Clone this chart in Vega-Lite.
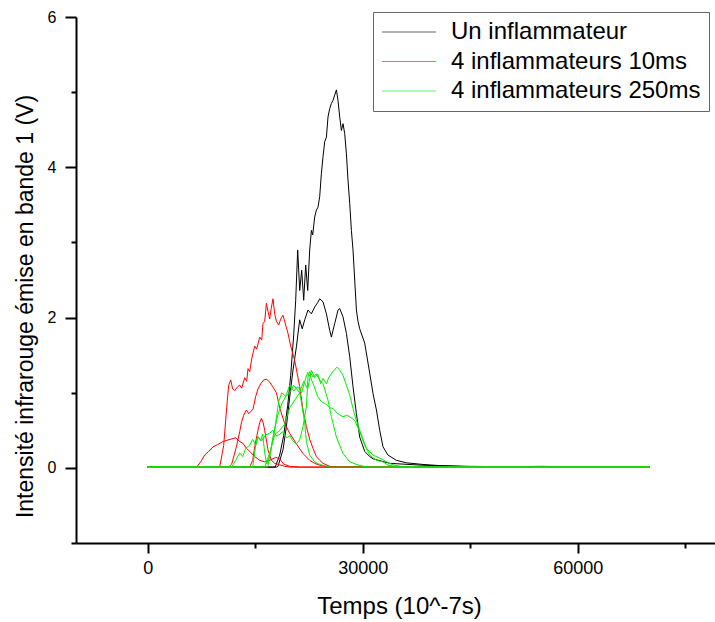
{
  "$schema": "https://vega.github.io/schema/vega-lite/v6.json",
  "width": 639,
  "height": 526,
  "autosize": {"type": "none"},
  "padding": {"left": 76, "top": 17, "right": 0, "bottom": 79},
  "background": "white",
  "view": {"stroke": null},
  "config": {
    "font": "Liberation Sans",
    "axis": {"grid": false, "domainColor": "black", "domainWidth": 2, "tickColor": "black", "tickWidth": 2, "labelColor": "black", "titleColor": "black", "labelFont": "Liberation Sans", "titleFont": "Liberation Sans", "titleFontWeight": "normal"}
  },
  "datasets": {
    "series": [
      {"k": "A", "serie": "Un inflammateur"},
      {"k": "B", "serie": "Un inflammateur"},
      {"k": "R1", "serie": "4 inflammateurs 10ms"},
      {"k": "R2", "serie": "4 inflammateurs 10ms"},
      {"k": "R3", "serie": "4 inflammateurs 10ms"},
      {"k": "R4", "serie": "4 inflammateurs 10ms"},
      {"k": "G1", "serie": "4 inflammateurs 250ms"},
      {"k": "G2", "serie": "4 inflammateurs 250ms"},
      {"k": "G3", "serie": "4 inflammateurs 250ms"},
      {"k": "G4", "serie": "4 inflammateurs 250ms"}
    ],
    "pts": [
      {"k":"A","t":0,"v":0.01},{"k":"A","t":17790,"v":0.01},{"k":"A","t":18419,"v":0.17},{"k":"A","t":18977,"v":0.43},{"k":"A","t":19535,"v":0.83},{"k":"A","t":19954,"v":1.23},{"k":"A","t":20372,"v":1.77},{"k":"A","t":20651,"v":2.23},{"k":"A","t":20930,"v":2.9},{"k":"A","t":21209,"v":2.36},{"k":"A","t":21488,"v":2.63},{"k":"A","t":21767,"v":2.23},{"k":"A","t":22047,"v":2.7},{"k":"A","t":22326,"v":2.36},{"k":"A","t":22605,"v":2.9},{"k":"A","t":22842,"v":3.16},{"k":"A","t":23023,"v":3.1},{"k":"A","t":23302,"v":3.34},{"k":"A","t":23539,"v":3.43},{"k":"A","t":23763,"v":3.47},{"k":"A","t":24000,"v":3.61},{"k":"A","t":24237,"v":3.92},{"k":"A","t":24461,"v":4.14},{"k":"A","t":24698,"v":4.34},{"k":"A","t":24935,"v":4.4},{"k":"A","t":25158,"v":4.67},{"k":"A","t":25395,"v":4.78},{"k":"A","t":25633,"v":4.85},{"k":"A","t":25856,"v":4.89},{"k":"A","t":26093,"v":4.96},{"k":"A","t":26330,"v":5.03},{"k":"A","t":26554,"v":4.89},{"k":"A","t":26791,"v":4.67},{"k":"A","t":27028,"v":4.49},{"k":"A","t":27251,"v":4.58},{"k":"A","t":27488,"v":4.45},{"k":"A","t":27726,"v":4.18},{"k":"A","t":27949,"v":3.83},{"k":"A","t":28186,"v":3.52},{"k":"A","t":28423,"v":3.16},{"k":"A","t":28647,"v":2.9},{"k":"A","t":28884,"v":2.5},{"k":"A","t":29121,"v":2.1},{"k":"A","t":29344,"v":1.95},{"k":"A","t":29581,"v":1.85},{"k":"A","t":30279,"v":1.66},{"k":"A","t":30977,"v":1.26},{"k":"A","t":31437,"v":0.99},{"k":"A","t":31912,"v":0.77},{"k":"A","t":32372,"v":0.5},{"k":"A","t":32833,"v":0.28},{"k":"A","t":33530,"v":0.17},{"k":"A","t":34702,"v":0.1},{"k":"A","t":36098,"v":0.067},{"k":"A","t":38414,"v":0.045},{"k":"A","t":40744,"v":0.03},{"k":"A","t":44930,"v":0.02},{"k":"A","t":50000,"v":0.015},{"k":"A","t":55000,"v":0.02},{"k":"A","t":60000,"v":0.012},{"k":"A","t":65000,"v":0.018},{"k":"A","t":70000,"v":0.012},
      {"k":"B","t":0,"v":0.01},{"k":"B","t":18000,"v":0.01},{"k":"B","t":18181,"v":0.02},{"k":"B","t":18879,"v":0.24},{"k":"B","t":19353,"v":0.55},{"k":"B","t":19814,"v":0.94},{"k":"B","t":20274,"v":1.3},{"k":"B","t":20749,"v":1.61},{"k":"B","t":21209,"v":1.97},{"k":"B","t":21558,"v":1.85},{"k":"B","t":21907,"v":1.97},{"k":"B","t":22367,"v":2.1},{"k":"B","t":22842,"v":2.05},{"k":"B","t":23302,"v":2.14},{"k":"B","t":23721,"v":2.2},{"k":"B","t":24000,"v":2.25},{"k":"B","t":24461,"v":2.21},{"k":"B","t":24935,"v":2.05},{"k":"B","t":25395,"v":1.83},{"k":"B","t":25633,"v":1.74},{"k":"B","t":26093,"v":1.92},{"k":"B","t":26554,"v":2.1},{"k":"B","t":26791,"v":2.12},{"k":"B","t":27251,"v":2.01},{"k":"B","t":27726,"v":1.79},{"k":"B","t":28186,"v":1.48},{"k":"B","t":28647,"v":1.08},{"k":"B","t":29121,"v":0.72},{"k":"B","t":29581,"v":0.41},{"k":"B","t":30279,"v":0.22},{"k":"B","t":30977,"v":0.15},{"k":"B","t":31437,"v":0.12},{"k":"B","t":33767,"v":0.06},{"k":"B","t":38372,"v":0.035},{"k":"B","t":44930,"v":0.015},{"k":"B","t":70000,"v":0.01},
      {"k":"R1","t":0,"v":0.01},{"k":"R1","t":6837,"v":0.01},{"k":"R1","t":7395,"v":0.08},{"k":"R1","t":7953,"v":0.17},{"k":"R1","t":8512,"v":0.22},{"k":"R1","t":9112,"v":0.28},{"k":"R1","t":9767,"v":0.31},{"k":"R1","t":10507,"v":0.35},{"k":"R1","t":11163,"v":0.37},{"k":"R1","t":11902,"v":0.39},{"k":"R1","t":12279,"v":0.4},{"k":"R1","t":12837,"v":0.35},{"k":"R1","t":13256,"v":0.33},{"k":"R1","t":13772,"v":0.26},{"k":"R1","t":14233,"v":0.22},{"k":"R1","t":14930,"v":0.15},{"k":"R1","t":15628,"v":0.1},{"k":"R1","t":16326,"v":0.08},{"k":"R1","t":17023,"v":0.1},{"k":"R1","t":17860,"v":0.14},{"k":"R1","t":18419,"v":0.12},{"k":"R1","t":18977,"v":0.05},{"k":"R1","t":19814,"v":0.02},{"k":"R1","t":21209,"v":0.01},{"k":"R1","t":70000,"v":0.01},
      {"k":"R2","t":0,"v":0.01},{"k":"R2","t":10047,"v":0.01},{"k":"R2","t":10605,"v":0.3},{"k":"R2","t":11023,"v":0.8},{"k":"R2","t":11302,"v":1.1},{"k":"R2","t":11581,"v":1.17},{"k":"R2","t":11860,"v":1.05},{"k":"R2","t":12140,"v":1.03},{"k":"R2","t":12558,"v":1.08},{"k":"R2","t":12837,"v":1.1},{"k":"R2","t":13116,"v":1.06},{"k":"R2","t":13535,"v":1.2},{"k":"R2","t":13814,"v":1.15},{"k":"R2","t":13995,"v":1.32},{"k":"R2","t":14233,"v":1.28},{"k":"R2","t":14512,"v":1.45},{"k":"R2","t":14930,"v":1.62},{"k":"R2","t":15209,"v":1.58},{"k":"R2","t":15628,"v":1.74},{"k":"R2","t":15907,"v":1.7},{"k":"R2","t":16088,"v":1.92},{"k":"R2","t":16326,"v":1.95},{"k":"R2","t":16563,"v":2.19},{"k":"R2","t":16744,"v":2.1},{"k":"R2","t":17023,"v":1.98},{"k":"R2","t":17233,"v":2.12},{"k":"R2","t":17484,"v":2.25},{"k":"R2","t":17721,"v":2.05},{"k":"R2","t":17958,"v":1.95},{"k":"R2","t":18279,"v":1.9},{"k":"R2","t":18558,"v":1.98},{"k":"R2","t":18879,"v":2.03},{"k":"R2","t":19256,"v":1.9},{"k":"R2","t":19577,"v":1.79},{"k":"R2","t":19954,"v":1.62},{"k":"R2","t":20512,"v":1.43},{"k":"R2","t":21209,"v":1.08},{"k":"R2","t":21670,"v":0.77},{"k":"R2","t":22144,"v":0.55},{"k":"R2","t":22605,"v":0.38},{"k":"R2","t":23065,"v":0.26},{"k":"R2","t":23539,"v":0.15},{"k":"R2","t":24000,"v":0.1},{"k":"R2","t":24461,"v":0.06},{"k":"R2","t":25395,"v":0.02},{"k":"R2","t":26791,"v":0.01},{"k":"R2","t":70000,"v":0.01},
      {"k":"R3","t":0,"v":0.01},{"k":"R3","t":11302,"v":0.01},{"k":"R3","t":11721,"v":0.05},{"k":"R3","t":12377,"v":0.28},{"k":"R3","t":12837,"v":0.48},{"k":"R3","t":13075,"v":0.6},{"k":"R3","t":13395,"v":0.7},{"k":"R3","t":13772,"v":0.77},{"k":"R3","t":14093,"v":0.72},{"k":"R3","t":14372,"v":0.75},{"k":"R3","t":14693,"v":0.78},{"k":"R3","t":15070,"v":0.95},{"k":"R3","t":15391,"v":1.05},{"k":"R3","t":15767,"v":1.12},{"k":"R3","t":16186,"v":1.17},{"k":"R3","t":16605,"v":1.18},{"k":"R3","t":17023,"v":1.14},{"k":"R3","t":17442,"v":1.08},{"k":"R3","t":17958,"v":1.0},{"k":"R3","t":18419,"v":0.8},{"k":"R3","t":19116,"v":0.59},{"k":"R3","t":19814,"v":0.46},{"k":"R3","t":20749,"v":0.32},{"k":"R3","t":21670,"v":0.19},{"k":"R3","t":22605,"v":0.1},{"k":"R3","t":23302,"v":0.06},{"k":"R3","t":24000,"v":0.035},{"k":"R3","t":25395,"v":0.01},{"k":"R3","t":70000,"v":0.01},
      {"k":"R4","t":0,"v":0.01},{"k":"R4","t":14233,"v":0.01},{"k":"R4","t":14651,"v":0.1},{"k":"R4","t":14930,"v":0.28},{"k":"R4","t":15391,"v":0.5},{"k":"R4","t":15628,"v":0.6},{"k":"R4","t":15865,"v":0.66},{"k":"R4","t":16116,"v":0.6},{"k":"R4","t":16326,"v":0.5},{"k":"R4","t":16786,"v":0.24},{"k":"R4","t":17260,"v":0.1},{"k":"R4","t":17721,"v":0.06},{"k":"R4","t":18419,"v":0.04},{"k":"R4","t":19116,"v":0.02},{"k":"R4","t":19814,"v":0.01},{"k":"R4","t":70000,"v":0.01},
      {"k":"G1","t":0,"v":0.01},{"k":"G1","t":16326,"v":0.01},{"k":"G1","t":17023,"v":0.2},{"k":"G1","t":17721,"v":0.44},{"k":"G1","t":18419,"v":0.5},{"k":"G1","t":19116,"v":0.58},{"k":"G1","t":19814,"v":0.8},{"k":"G1","t":20512,"v":0.9},{"k":"G1","t":21209,"v":1.0},{"k":"G1","t":21767,"v":1.15},{"k":"G1","t":22326,"v":1.05},{"k":"G1","t":22842,"v":1.3},{"k":"G1","t":23302,"v":1.2},{"k":"G1","t":23721,"v":1.25},{"k":"G1","t":24140,"v":1.12},{"k":"G1","t":24461,"v":1.19},{"k":"G1","t":24935,"v":1.12},{"k":"G1","t":25256,"v":1.2},{"k":"G1","t":25814,"v":1.28},{"k":"G1","t":26414,"v":1.34},{"k":"G1","t":26791,"v":1.3},{"k":"G1","t":27251,"v":1.23},{"k":"G1","t":27726,"v":1.1},{"k":"G1","t":28186,"v":0.97},{"k":"G1","t":28884,"v":0.7},{"k":"G1","t":29581,"v":0.5},{"k":"G1","t":30517,"v":0.26},{"k":"G1","t":31437,"v":0.17},{"k":"G1","t":32372,"v":0.13},{"k":"G1","t":33307,"v":0.08},{"k":"G1","t":34228,"v":0.04},{"k":"G1","t":35860,"v":0.01},{"k":"G1","t":70000,"v":0.01},
      {"k":"G2","t":0,"v":0.01},{"k":"G2","t":16744,"v":0.01},{"k":"G2","t":17302,"v":0.3},{"k":"G2","t":17860,"v":0.6},{"k":"G2","t":18279,"v":0.88},{"k":"G2","t":18698,"v":1.0},{"k":"G2","t":19256,"v":0.95},{"k":"G2","t":19814,"v":1.1},{"k":"G2","t":20372,"v":1.02},{"k":"G2","t":20930,"v":1.08},{"k":"G2","t":21488,"v":1.0},{"k":"G2","t":21907,"v":1.15},{"k":"G2","t":22326,"v":1.27},{"k":"G2","t":22744,"v":1.2},{"k":"G2","t":23163,"v":1.1},{"k":"G2","t":23721,"v":0.95},{"k":"G2","t":24237,"v":0.88},{"k":"G2","t":24837,"v":0.85},{"k":"G2","t":25395,"v":0.8},{"k":"G2","t":25856,"v":0.79},{"k":"G2","t":26512,"v":0.72},{"k":"G2","t":27251,"v":0.68},{"k":"G2","t":27767,"v":0.7},{"k":"G2","t":28186,"v":0.68},{"k":"G2","t":28884,"v":0.63},{"k":"G2","t":29581,"v":0.48},{"k":"G2","t":30279,"v":0.3},{"k":"G2","t":30977,"v":0.17},{"k":"G2","t":31912,"v":0.1},{"k":"G2","t":32833,"v":0.08},{"k":"G2","t":33530,"v":0.035},{"k":"G2","t":35163,"v":0.01},{"k":"G2","t":70000,"v":0.01},
      {"k":"G3","t":0,"v":0.01},{"k":"G3","t":14651,"v":0.01},{"k":"G3","t":15070,"v":0.3},{"k":"G3","t":15349,"v":0.42},{"k":"G3","t":15767,"v":0.36},{"k":"G3","t":16047,"v":0.45},{"k":"G3","t":16326,"v":0.2},{"k":"G3","t":16605,"v":0.05},{"k":"G3","t":17023,"v":0.15},{"k":"G3","t":17581,"v":0.45},{"k":"G3","t":18140,"v":0.7},{"k":"G3","t":18698,"v":0.85},{"k":"G3","t":19256,"v":0.95},{"k":"G3","t":19814,"v":1.0},{"k":"G3","t":20372,"v":1.1},{"k":"G3","t":20791,"v":1.05},{"k":"G3","t":21209,"v":1.0},{"k":"G3","t":21488,"v":0.85},{"k":"G3","t":21907,"v":0.6},{"k":"G3","t":22144,"v":0.35},{"k":"G3","t":22605,"v":0.17},{"k":"G3","t":23302,"v":0.08},{"k":"G3","t":24000,"v":0.045},{"k":"G3","t":25395,"v":0.01},{"k":"G3","t":70000,"v":0.01},
      {"k":"G4","t":0,"v":0.01},{"k":"G4","t":11721,"v":0.01},{"k":"G4","t":12279,"v":0.1},{"k":"G4","t":12837,"v":0.2},{"k":"G4","t":13256,"v":0.15},{"k":"G4","t":13674,"v":0.26},{"k":"G4","t":14233,"v":0.3},{"k":"G4","t":14651,"v":0.38},{"k":"G4","t":15070,"v":0.3},{"k":"G4","t":15447,"v":0.41},{"k":"G4","t":15907,"v":0.36},{"k":"G4","t":16465,"v":0.44},{"k":"G4","t":17023,"v":0.46},{"k":"G4","t":17442,"v":0.5},{"k":"G4","t":18000,"v":0.42},{"k":"G4","t":18879,"v":0.48},{"k":"G4","t":19395,"v":0.4},{"k":"G4","t":19814,"v":0.43},{"k":"G4","t":20233,"v":0.36},{"k":"G4","t":20749,"v":0.32},{"k":"G4","t":21209,"v":0.37},{"k":"G4","t":21670,"v":0.55},{"k":"G4","t":22144,"v":0.81},{"k":"G4","t":22367,"v":1.21},{"k":"G4","t":22605,"v":1.28},{"k":"G4","t":23065,"v":1.21},{"k":"G4","t":23539,"v":1.25},{"k":"G4","t":24000,"v":1.17},{"k":"G4","t":24461,"v":1.12},{"k":"G4","t":25158,"v":0.9},{"k":"G4","t":25633,"v":0.68},{"k":"G4","t":26330,"v":0.41},{"k":"G4","t":27251,"v":0.19},{"k":"G4","t":28186,"v":0.08},{"k":"G4","t":29581,"v":0.03},{"k":"G4","t":30977,"v":0.01},{"k":"G4","t":70000,"v":0.01}
    ]
  },
  "data": {"name": "pts"},
  "transform": [
    {"lookup": "k", "from": {"data": {"name": "series"}, "key": "k", "fields": ["serie"]}}
  ],
  "mark": {"type": "line", "strokeWidth": 1, "clip": true},
  "encoding": {
    "x": {
      "field": "t", "type": "quantitative",
      "scale": {"domain": [-10000, 79150], "nice": false, "zero": false},
      "axis": {
        "title": "Temps (10^-7s)",
        "values": [0, 15000, 30000, 45000, 60000, 75000],
        "format": "d",
        "labelExpr": "datum.value % 30000 === 0 ? datum.label : ''",
        "tickSize": {"condition": {"test": "datum.value % 30000 === 0", "value": 10}, "value": 5},
        "labelPadding": 6,
        "labelFontSize": 18,
        "labelFlush": false,
        "labelOverlap": false,
        "titleFontSize": 24,
        "titleBaseline": "alphabetic",
        "titleX": 323,
        "titleY": 70,
        "titleAnchor": null,
        "titleAlign": "center"
      }
    },
    "y": {
      "field": "v", "type": "quantitative",
      "scale": {"domain": [-1, 6], "nice": false, "zero": false},
      "axis": {
        "title": "Intensité infrarouge émise en bande 1 (V)",
        "values": [-1, 0, 1, 2, 3, 4, 5, 6],
        "labelExpr": "datum.value % 2 === 0 ? datum.label : ''",
        "tickSize": {"condition": {"test": "datum.value % 2 === 0", "value": 11}, "value": 5},
        "labelPadding": 9,
        "labelFontSize": 16,
        "labelFlush": false,
        "labelOverlap": false,
        "titleFontSize": 23,
        "titleAngle": -90,
        "titleBaseline": "alphabetic",
        "titleAlign": "center",
        "titleX": -44,
        "titleY": 289,
        "titleAnchor": null
      }
    },
    "color": {
      "field": "serie", "type": "nominal",
      "scale": {"domain": ["Un inflammateur", "4 inflammateurs 10ms", "4 inflammateurs 250ms"], "range": ["#000000", "#ff0000", "#00ee00"]},
      "legend": {
        "title": null,
        "orient": "none",
        "legendX": 297,
        "legendY": -5,
        "symbolType": "M-5,0H5",
        "symbolSize": 117,
        "symbolStrokeWidth": 1,
        "symbolOpacity": 0.6,
        "symbolOffset": 16,
        "labelOffset": 30,
        "labelFontSize": 24,
        "labelFont": "Liberation Sans",
        "labelColor": "black",
        "labelLimit": 400,
        "padding": 8,
        "rowPadding": 5.5,
        "strokeColor": "#666666",
        "fillColor": "white"
      }
    },
    "detail": {"field": "k", "type": "nominal"}
  }
}
